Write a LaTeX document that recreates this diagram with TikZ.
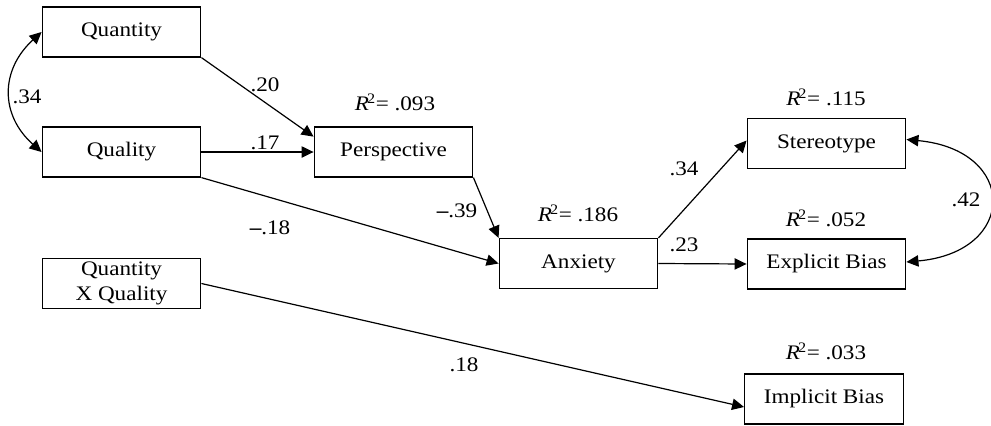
\documentclass[tikz,border=0pt]{standalone}
\usepackage{fontspec}
\setmainfont[FakeStretch=1.12]{Liberation Serif}
\usetikzlibrary{arrows.meta,calc}
\begin{document}
\begin{tikzpicture}[x=0.75pt,y=-0.75pt,
  box/.style={draw,line width=0.9pt,minimum width=119pt,minimum height=37.5pt,inner sep=0pt,align=center,font=\fontsize{15.5}{18.5}\selectfont},
  lbl/.style={font=\fontsize{15.5}{16}\selectfont,inner sep=0pt},
  path/.style={line width=0.9pt,-{Triangle[length=9pt,width=8.5pt]}},
  dpath/.style={line width=0.9pt,{Triangle[length=9pt,width=8.5pt]}-{Triangle[length=9pt,width=8.5pt]}}]
\useasboundingbox (0,0) rectangle (991,425);
\node[box] (qn) at (121.5,32) {Quantity};
\node[box] (ql) at (121.5,152) {Quality};
\node[box] (qq) at (121.5,283.5) {Quantity\\X Quality};
\node[box] (pe) at (393.5,152) {Perspective};
\node[box] (an) at (578.5,263.5) {Anxiety};
\node[box] (st) at (826.5,143.5) {Stereotype};
\node[box] (ex) at (826.5,264) {Explicit Bias};
\node[box] (im) at (824,399) {Implicit Bias};

\newcommand{\rsq}[1]{{\itshape R}\kern-1.5pt\textsuperscript{2}= #1}
\node[lbl] (r1) at (395,102) {\rsq{.093}};
\node[lbl] (r2) at (578,213) {\rsq{.186}};
\node[lbl] (r3) at (826,97) {\rsq{.115}};
\node[lbl] (r4) at (826,218) {\rsq{.052}};
\node[lbl] (r5) at (826,351) {\rsq{.033}};

\node[lbl] (l1) at (27,97) {.34};
\node[lbl] (l2) at (265,85) {.20};
\node[lbl] (l3) at (265,143) {.17};
\node[lbl] (l4) at (457,211) {\textbf{–}.39};
\node[lbl] (l5) at (270,228) {\textbf{–}.18};
\node[lbl] (l6) at (684,169) {.34};
\node[lbl] (l7) at (684,245) {.23};
\node[lbl] (l8) at (966,200) {.42};
\node[lbl] (l9) at (464,365) {.18};

\coordinate (pein) at ($(pe.north west)!0.2!(pe.south west)$);
\coordinate (imin) at ($(im.west)+(0,8)$);
\coordinate (stin) at ($(st.west)+(0,-3)$);
\draw[path] (qn.south east) -- (pein);
\draw[path] (ql.east) -- (pe.west);
\draw[path] (ql.south east) -- (an.west);
\draw[path] (pe.south east) -- (an.north west);
\draw[path] (an.north east) -- (stin);
\draw[path] (an.east) -- (ex.west);
\draw[path] (qq.east) -- (imin);
\draw[dpath] (qn.west) .. controls (0,70) and (0,115) .. (ql.west);
\coordinate (stout) at ($(st.east)+(0,-4)$);
\coordinate (exout) at ($(ex.east)+(0,-2)$);
\draw[dpath] (stout) .. controls (1018,150) and (1018,252) .. (exout);
\end{tikzpicture}
\end{document}
